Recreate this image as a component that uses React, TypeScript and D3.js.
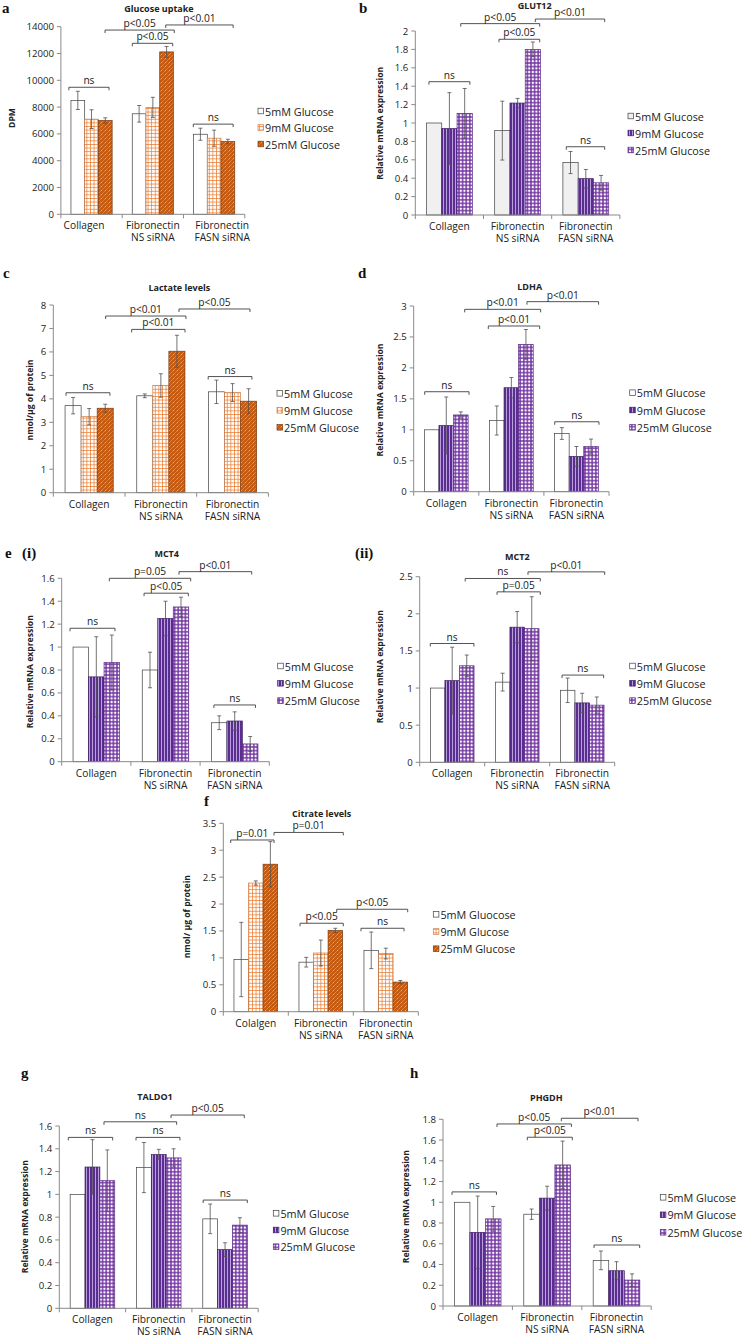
import React from 'react';
import * as d3 from 'd3';

// ---------- shared labels ----------
const categories = ['Collagen', 'Fibronectin\nNS siRNA', 'Fibronectin\nFASN siRNA'];
const categoriesF = ['Colalgen', 'Fibronectin\nNS siRNA', 'Fibronectin\nFASN siRNA'];
const legendLabels = ['5mM Glucose', '9mM Glucose', '25mM Glucose'];
const legendLabelsF = ['5mM Gluocose', '9mM Glucose', '25mM Glucose'];

type Bracket = { c1: number; c2: number; y: number; label: string };

// ---------- a: Glucose uptake (series x category) ----------
const glucoseMeans = [[8500, 7500, 5975], [7100, 7980, 5680], [7000, 12120, 5430]];
const glucoseErrs = [[680, 620, 450], [700, 750, 600], [200, 400, 170]];
const glucoseTicks = [0, 2000, 4000, 6000, 8000, 10000, 12000, 14000];
const glucoseBrackets: Bracket[] = [
  { c1: 0.13, c2: 0.785, y: 9480, label: 'ns' },
  { c1: 0.72, c2: 1.85, y: 13750, label: 'p<0.05' },
  { c1: 1.165, c2: 1.824, y: 12760, label: 'p<0.05' },
  { c1: 1.71, c2: 2.81, y: 14130, label: 'p<0.01' },
  { c1: 2.16, c2: 2.81, y: 6730, label: 'ns' },
];

// ---------- b: GLUT12 ----------
const glut12Means = [[1.0, 0.917, 0.57], [0.94, 1.217, 0.395], [1.105, 1.8, 0.35]];
const glut12Errs = [[0, 0.32, 0.12], [0.39, 0.05, 0.1], [0.27, 0.08, 0.08]];
const glut12Ticks = [0, 0.2, 0.4, 0.6, 0.8, 1, 1.2, 1.4, 1.6, 1.8, 2];
const glut12Brackets: Bracket[] = [
  { c1: 0.2, c2: 0.8, y: 1.449, label: 'ns' },
  { c1: 0.666, c2: 1.824, y: 2.08, label: 'p<0.05' },
  { c1: 1.227, c2: 1.824, y: 1.91, label: 'p<0.05' },
  { c1: 1.76, c2: 2.777, y: 2.13, label: 'p<0.01' },
  { c1: 2.214, c2: 2.777, y: 0.742, label: 'ns' },
];

// ---------- c: Lactate levels ----------
const lactateMeans = [[3.71, 4.13, 4.3], [3.24, 4.57, 4.27], [3.6, 6.03, 3.9]];
const lactateErrs = [[0.35, 0.08, 0.5], [0.35, 0.5, 0.38], [0.17, 0.68, 0.53]];
const lactateTicks = [0, 1, 2, 3, 4, 5, 6, 7, 8];
const lactateBrackets: Bracket[] = [
  { c1: 0.177, c2: 0.79, y: 4.26, label: 'ns' },
  { c1: 0.73, c2: 1.85, y: 7.53, label: 'p<0.01' },
  { c1: 1.093, c2: 1.837, y: 6.96, label: 'p<0.01' },
  { c1: 1.753, c2: 2.743, y: 7.83, label: 'p<0.05' },
  { c1: 2.16, c2: 2.77, y: 4.95, label: 'ns' },
];

// ---------- d: LDHA ----------
const ldhaMeans = [[1.0, 1.15, 0.94], [1.07, 1.68, 0.57], [1.24, 2.38, 0.73]];
const ldhaErrs = [[0, 0.235, 0.095], [0.46, 0.165, 0.16], [0.05, 0.24, 0.12]];
const ldhaTicks = [0, 0.5, 1, 1.5, 2, 2.5, 3];
const ldhaBrackets: Bracket[] = [
  { c1: 0.169, c2: 0.85, y: 1.615, label: 'ns' },
  { c1: 0.783, c2: 1.95, y: 2.946, label: 'p<0.01' },
  { c1: 1.146, c2: 1.935, y: 2.677, label: 'p<0.01' },
  { c1: 1.74, c2: 2.84, y: 3.07, label: 'p<0.01' },
  { c1: 2.166, c2: 2.846, y: 1.13, label: 'ns' },
];

// ---------- e(i): MCT4 ----------
const mct4Means = [[1.0, 0.8, 0.34], [0.74, 1.25, 0.355], [0.865, 1.35, 0.155]];
const mct4Errs = [[0, 0.155, 0.06], [0.35, 0.15, 0.08], [0.24, 0.085, 0.065]];
const mct4Ticks = [0, 0.2, 0.4, 0.6, 0.8, 1, 1.2, 1.4, 1.6];
const mct4Brackets: Bracket[] = [
  { c1: 0.12, c2: 0.77, y: 1.164, label: 'ns' },
  { c1: 0.688, c2: 1.864, y: 1.6, label: 'p=0.05' },
  { c1: 1.19, c2: 1.83, y: 1.47, label: 'p<0.05' },
  { c1: 1.695, c2: 2.746, y: 1.658, label: 'p<0.01' },
  { c1: 2.2, c2: 2.8, y: 0.495, label: 'ns' },
];

// ---------- e(ii): MCT2 ----------
const mct2Means = [[1.0, 1.08, 0.97], [1.1, 1.82, 0.8], [1.3, 1.8, 0.77]];
const mct2Errs = [[0, 0.12, 0.165], [0.45, 0.21, 0.13], [0.145, 0.43, 0.11]];
const mct2Ticks = [0, 0.5, 1, 1.5, 2, 2.5];
const mct2Brackets: Bracket[] = [
  { c1: 0.163, c2: 0.835, y: 1.6, label: 'ns' },
  { c1: 0.7, c2: 1.855, y: 2.476, label: 'ns' },
  { c1: 1.19, c2: 1.855, y: 2.296, label: 'p=0.05' },
  { c1: 1.666, c2: 2.846, y: 2.565, label: 'p<0.01' },
  { c1: 2.19, c2: 2.83, y: 1.175, label: 'ns' },
];

// ---------- f: Citrate levels ----------
const citrateMeans = [[0.97, 0.92, 1.14], [2.39, 1.09, 1.08], [2.74, 1.51, 0.55]];
const citrateErrs = [[0.69, 0.09, 0.34], [0.04, 0.24, 0.1], [0.42, 0.04, 0.03]];
const citrateTicks = [0, 0.5, 1, 1.5, 2, 2.5, 3, 3.5];
const citrateBrackets: Bracket[] = [
  { c1: 0.114, c2: 0.78, y: 3.19, label: 'p=0.01' },
  { c1: 0.78, c2: 1.846, y: 3.33, label: 'p=0.01' },
  { c1: 1.18, c2: 1.846, y: 1.643, label: 'p<0.05' },
  { c1: 1.745, c2: 2.837, y: 1.903, label: 'p<0.05' },
  { c1: 2.118, c2: 2.78, y: 1.55, label: 'ns' },
];

// ---------- g: TALDO1 ----------
const taldoMeans = [[1.0, 1.235, 0.785], [1.24, 1.35, 0.515], [1.12, 1.32, 0.73]];
const taldoErrs = [[0, 0.22, 0.13], [0.24, 0.045, 0.06], [0.27, 0.08, 0.065]];
const taldoTicks = [0, 0.2, 0.4, 0.6, 0.8, 1, 1.2, 1.4, 1.6];
const taldoBrackets: Bracket[] = [
  { c1: 0.136, c2: 0.805, y: 1.5, label: 'ns' },
  { c1: 0.674, c2: 1.77, y: 1.637, label: 'ns' },
  { c1: 1.157, c2: 1.82, y: 1.5, label: 'ns' },
  { c1: 1.685, c2: 2.79, y: 1.696, label: 'p<0.05' },
  { c1: 2.17, c2: 2.836, y: 0.95, label: 'ns' },
];

// ---------- h: PHGDH ----------
const phgdhMeans = [[1.0, 0.885, 0.44], [0.71, 1.04, 0.34], [0.84, 1.36, 0.25]];
const phgdhErrs = [[0, 0.05, 0.09], [0.35, 0.115, 0.087], [0.12, 0.23, 0.06]];
const phgdhTicks = [0, 0.2, 0.4, 0.6, 0.8, 1, 1.2, 1.4, 1.6, 1.8];
const phgdhBrackets: Bracket[] = [
  { c1: 0.13, c2: 0.77, y: 1.1, label: 'ns' },
  { c1: 0.778, c2: 1.85, y: 1.755, label: 'p<0.05' },
  { c1: 1.215, c2: 1.863, y: 1.627, label: 'p<0.05' },
  { c1: 1.705, c2: 2.81, y: 1.81, label: 'p<0.01' },
  { c1: 2.176, c2: 2.834, y: 0.588, label: 'ns' },
];

// ---------- layout ----------
interface Layout {
  x0: number; band: number; y0: number; yTop: number;
  titleX: number; titleY: number;
  ylabX: number; ylabY: number;
  legX: number; legY: number; legGap: number;
  catDx?: number[];
}

interface PanelProps {
  id: string;
  title: string;
  ylabel: string;
  means: number[][];
  errs: number[][];
  ticks: number[];
  brackets: Bracket[];
  theme: 'orange' | 'purple';
  cats: string[];
  legend: string[];
  L: Layout;
  firstFill?: string;
}

const FONT = '"Open Sans", "Noto Sans", sans-serif';
const fmt = d3.format('~g');

function Patterns({ id }: { id: string }) {
  return (
    <defs>
      <pattern id={`${id}-grid`} width={3.6} height={3.6} patternUnits="userSpaceOnUse">
        <rect width={3.6} height={3.6} fill="#fff" />
        <path d="M0 0.4H3.6M0.4 0V3.6" stroke="#ed7d31" strokeWidth={0.8} />
      </pattern>
      <pattern id={`${id}-diag`} width={4} height={4} patternUnits="userSpaceOnUse">
        <rect width={4} height={4} fill="#c55a11" />
        <path d="M0.5 3.5L2 2M2.5 1.5L3.5 0.5" stroke="#f8cbad" strokeWidth={0.7} />
      </pattern>
      <pattern id={`${id}-stripe`} width={3} height={3} patternUnits="userSpaceOnUse">
        <rect width={3} height={3} fill="#5b2d91" />
        <rect x={2} width={1} height={3} fill="#b7a0dc" />
      </pattern>
      <pattern id={`${id}-plus`} width={3.6} height={3.6} patternUnits="userSpaceOnUse">
        <rect width={3.6} height={3.6} fill="#fff" />
        <path d="M0 1.8H3.6M1.8 0V3.6" stroke="#7030a0" strokeWidth={1.4} />
      </pattern>
    </defs>
  );
}

function Panel(p: PanelProps) {
  const { L } = p;
  const yMax = p.ticks[p.ticks.length - 1];
  const y = d3.scaleLinear().domain([0, yMax]).range([L.y0, L.yTop]);
  const xc = d3.scaleLinear().domain([0, 3]).range([L.x0, L.x0 + 3 * L.band]);
  const xg = d3.scaleBand<number>().domain([0, 1, 2]).range([L.x0, L.x0 + 3 * L.band]);
  const xs = d3.scaleBand<number>().domain([0, 1, 2]).range([0.164 * L.band, 0.836 * L.band]);
  const fills = p.theme === 'orange'
    ? ['#fff', `url(#${p.id}-grid)`, `url(#${p.id}-diag)`]
    : [p.firstFill || '#fff', `url(#${p.id}-stripe)`, `url(#${p.id}-plus)`];
  const strokes = p.theme === 'orange' ? ['#404040', '#d07a45', '#7a3a10'] : ['#404040', '#3d1d66', '#5a2a85'];
  const axisColor = '#8a8a8a';
  const sq = 5.6;

  return (
    <g>
      <Patterns id={p.id} />
      {/* title */}
      <text x={L.titleX} y={L.titleY} textAnchor="middle" fontFamily={FONT} fontWeight="bold" fontSize={9} fill="#222">{p.title}</text>
      {/* y label */}
      <text transform={`translate(${L.ylabX},${L.ylabY}) rotate(-90)`} textAnchor="middle" dominantBaseline="central" fontFamily={FONT} fontWeight="bold" fontSize={8.6} fill="#222">{p.ylabel}</text>
      {/* bars */}
      {p.means.map((series, s) => series.map((v, c) => {
        const x = (xg(c) as number) + (xs(s) as number);
        const w = xs.bandwidth();
        return (
          <rect key={`b${s}-${c}`} x={x} y={y(v)} width={w} height={y(0) - y(v)} fill={fills[s]} stroke={strokes[s]} strokeWidth={0.7} />
        );
      }))}
      {/* error bars */}
      {p.errs.map((series, s) => series.map((e, c) => {
        if (!e) return null;
        const v = p.means[s][c];
        const cx = (xg(c) as number) + (xs(s) as number) + xs.bandwidth() / 2;
        const hi = y(v + e), lo = y(v - e);
        return (
          <path key={`e${s}-${c}`} d={`M${cx},${hi}V${lo}M${cx - 2},${hi}H${cx + 2}M${cx - 2},${lo}H${cx + 2}`} stroke="#505050" strokeWidth={0.8} fill="none" />
        );
      }))}
      {/* y axis */}
      <line x1={L.x0} x2={L.x0} y1={y(0)} y2={y(yMax)} stroke={axisColor} strokeWidth={1} />
      {p.ticks.map((t) => (
        <g key={`t${t}`}>
          <line x1={L.x0 - 4} x2={L.x0} y1={y(t)} y2={y(t)} stroke={axisColor} strokeWidth={1} />
          <text x={L.x0 - 7} y={y(t)} textAnchor="end" dominantBaseline="central" fontFamily={FONT} fontSize={9.6} fill="#222">{fmt(t)}</text>
        </g>
      ))}
      {/* x axis */}
      <line x1={L.x0} x2={xc(3)} y1={y(0)} y2={y(0)} stroke={axisColor} strokeWidth={1} />
      {[0, 1, 2, 3].map((c) => (
        <line key={`xt${c}`} x1={xc(c)} x2={xc(c)} y1={y(0)} y2={y(0) + 4} stroke={axisColor} strokeWidth={1} />
      ))}
      {p.cats.map((lab, c) => {
        const cx = (xg(c) as number) + xg.bandwidth() / 2 + (L.catDx ? L.catDx[c] : 0);
        return lab.split('\n').map((line, i) => (
          <text key={`c${c}-${i}`} x={cx} y={y(0) + 15 + i * 11.8} textAnchor="middle" fontFamily={FONT} fontSize={10.2} fill="#222">{line}</text>
        ));
      })}
      {/* brackets */}
      {p.brackets.map((b, i) => {
        const x1 = xc(b.c1), x2 = xc(b.c2), yy = y(b.y);
        return (
          <g key={`br${i}`}>
            <path d={`M${x1},${yy + 3}V${yy}H${x2}V${yy + 3}`} stroke="#404040" strokeWidth={0.9} fill="none" />
            <text x={(x1 + x2) / 2} y={yy - 3} textAnchor="middle" fontFamily={FONT} fontSize={10.2} fill="#222">{b.label}</text>
          </g>
        );
      })}
      {/* legend */}
      {p.legend.map((lab, s) => {
        const cy = L.legY + s * L.legGap;
        return (
          <g key={`l${s}`}>
            <rect x={L.legX} y={cy - sq / 2} width={sq} height={sq} fill={fills[s]} stroke={strokes[s]} strokeWidth={0.7} />
            <text x={L.legX + sq + 1.5} y={cy} dominantBaseline="central" fontFamily={FONT} fontSize={10.8} fill="#222">{lab}</text>
          </g>
        );
      })}
    </g>
  );
}

const LETTER = '"Liberation Serif", "DejaVu Serif", serif';

function Letter({ x, y, t }: { x: number; y: number; t: string }) {
  return <text x={x} y={y} fontFamily={LETTER} fontWeight="bold" fontSize={15} fill="#111">{t}</text>;
}

const relExpr = 'Relative mRNA expression';

export default function App() {
  return (
    <svg width={746} height={1338} style={{ position: 'absolute', left: 0, top: 0, background: '#fff' }}>
      <rect width={746} height={1338} fill="#fff" />
      <Letter x={2} y={13} t="a" />
      <Letter x={359} y={13} t="b" />
      <Letter x={3} y={278} t="c" />
      <Letter x={358} y={278} t="d" />
      <Letter x={5} y={558} t="e" />
      <Letter x={22} y={558} t="(i)" />
      <Letter x={355} y={558} t="(ii)" />
      <Letter x={204} y={806} t="f" />
      <Letter x={21} y={1078} t="g" />
      <Letter x={410} y={1078} t="h" />

      <Panel id="a" title="Glucose uptake" ylabel="DPM" means={glucoseMeans} errs={glucoseErrs} ticks={glucoseTicks}
        brackets={glucoseBrackets} theme="orange" cats={categories} legend={legendLabels}
        L={{ x0: 60.9, band: 61.3, y0: 214.3, yTop: 26.7, titleX: 159, titleY: 11.5, ylabX: 12, ylabY: 118, legX: 258, legY: 111, legGap: 16.5, catDx: [-7.5, 0, 8] }} />
      <Panel id="b" title="GLUT12" ylabel={relExpr} means={glut12Means} errs={glut12Errs} ticks={glut12Ticks}
        brackets={glut12Brackets} theme="purple" firstFill="#f0f0f0" cats={categories} legend={legendLabels}
        L={{ x0: 415.3, band: 68.2, y0: 215, yTop: 31, titleX: 534.7, titleY: 8.5, ylabX: 380.3, ylabY: 123.3, legX: 628, legY: 116, legGap: 17 }} />
      <Panel id="c" title="Lactate levels" ylabel="nmol/µg of protein" means={lactateMeans} errs={lactateErrs} ticks={lactateTicks}
        brackets={lactateBrackets} theme="orange" cats={categories} legend={legendLabels}
        L={{ x0: 53.3, band: 71.7, y0: 492.7, yTop: 305, titleX: 179.3, titleY: 291, ylabX: 30, ylabY: 400, legX: 277, legY: 393.3, legGap: 17 }} />
      <Panel id="d" title="LDHA" ylabel={relExpr} means={ldhaMeans} errs={ldhaErrs} ticks={ldhaTicks}
        brackets={ldhaBrackets} theme="purple" cats={categories} legend={legendLabels}
        L={{ x0: 413.7, band: 65.1, y0: 491.7, yTop: 306, titleX: 529.7, titleY: 290, ylabX: 379.7, ylabY: 400, legX: 629.7, legY: 392.7, legGap: 17.3 }} />
      <Panel id="e" title="MCT4" ylabel={relExpr} means={mct4Means} errs={mct4Errs} ticks={mct4Ticks}
        brackets={mct4Brackets} theme="purple" cats={categories} legend={legendLabels}
        L={{ x0: 61.7, band: 69.2, y0: 761.7, yTop: 578.3, titleX: 166.7, titleY: 556.5, ylabX: 30, ylabY: 671.7, legX: 277.7, legY: 666, legGap: 17.3 }} />
      <Panel id="e2" title="MCT2" ylabel={relExpr} means={mct2Means} errs={mct2Errs} ticks={mct2Ticks}
        brackets={mct2Brackets} theme="purple" cats={categories} legend={legendLabels}
        L={{ x0: 419.7, band: 65, y0: 762.3, yTop: 576.7, titleX: 517.3, titleY: 560, ylabX: 379.7, ylabY: 666.7, legX: 629.7, legY: 666, legGap: 17.3 }} />
      <Panel id="f" title="Citrate levels" ylabel="nmol/ µg of protein" means={citrateMeans} errs={citrateErrs} ticks={citrateTicks}
        brackets={citrateBrackets} theme="orange" cats={categoriesF} legend={legendLabelsF}
        L={{ x0: 223.3, band: 65, y0: 1011.7, yTop: 823.3, titleX: 321.7, titleY: 816.5, ylabX: 186.7, ylabY: 916.7, legX: 433.3, legY: 914.3, legGap: 17.2 }} />
      <Panel id="g" title="TALDO1" ylabel={relExpr} means={taldoMeans} errs={taldoErrs} ticks={taldoTicks}
        brackets={taldoBrackets} theme="purple" cats={categories} legend={legendLabels}
        L={{ x0: 59.3, band: 66.3, y0: 1308.3, yTop: 1126, titleX: 155, titleY: 1100, ylabX: 25, ylabY: 1216.7, legX: 273.3, legY: 1213.3, legGap: 16.7 }} />
      <Panel id="h" title="PHGDH" ylabel={relExpr} means={phgdhMeans} errs={phgdhErrs} ticks={phgdhTicks}
        brackets={phgdhBrackets} theme="purple" cats={categories} legend={legendLabels}
        L={{ x0: 443, band: 69.4, y0: 1306, yTop: 1119.3, titleX: 546.3, titleY: 1100.5, ylabX: 406.3, ylabY: 1206.7, legX: 660.3, legY: 1197.3, legGap: 17.5 }} />
    </svg>
  );
}
